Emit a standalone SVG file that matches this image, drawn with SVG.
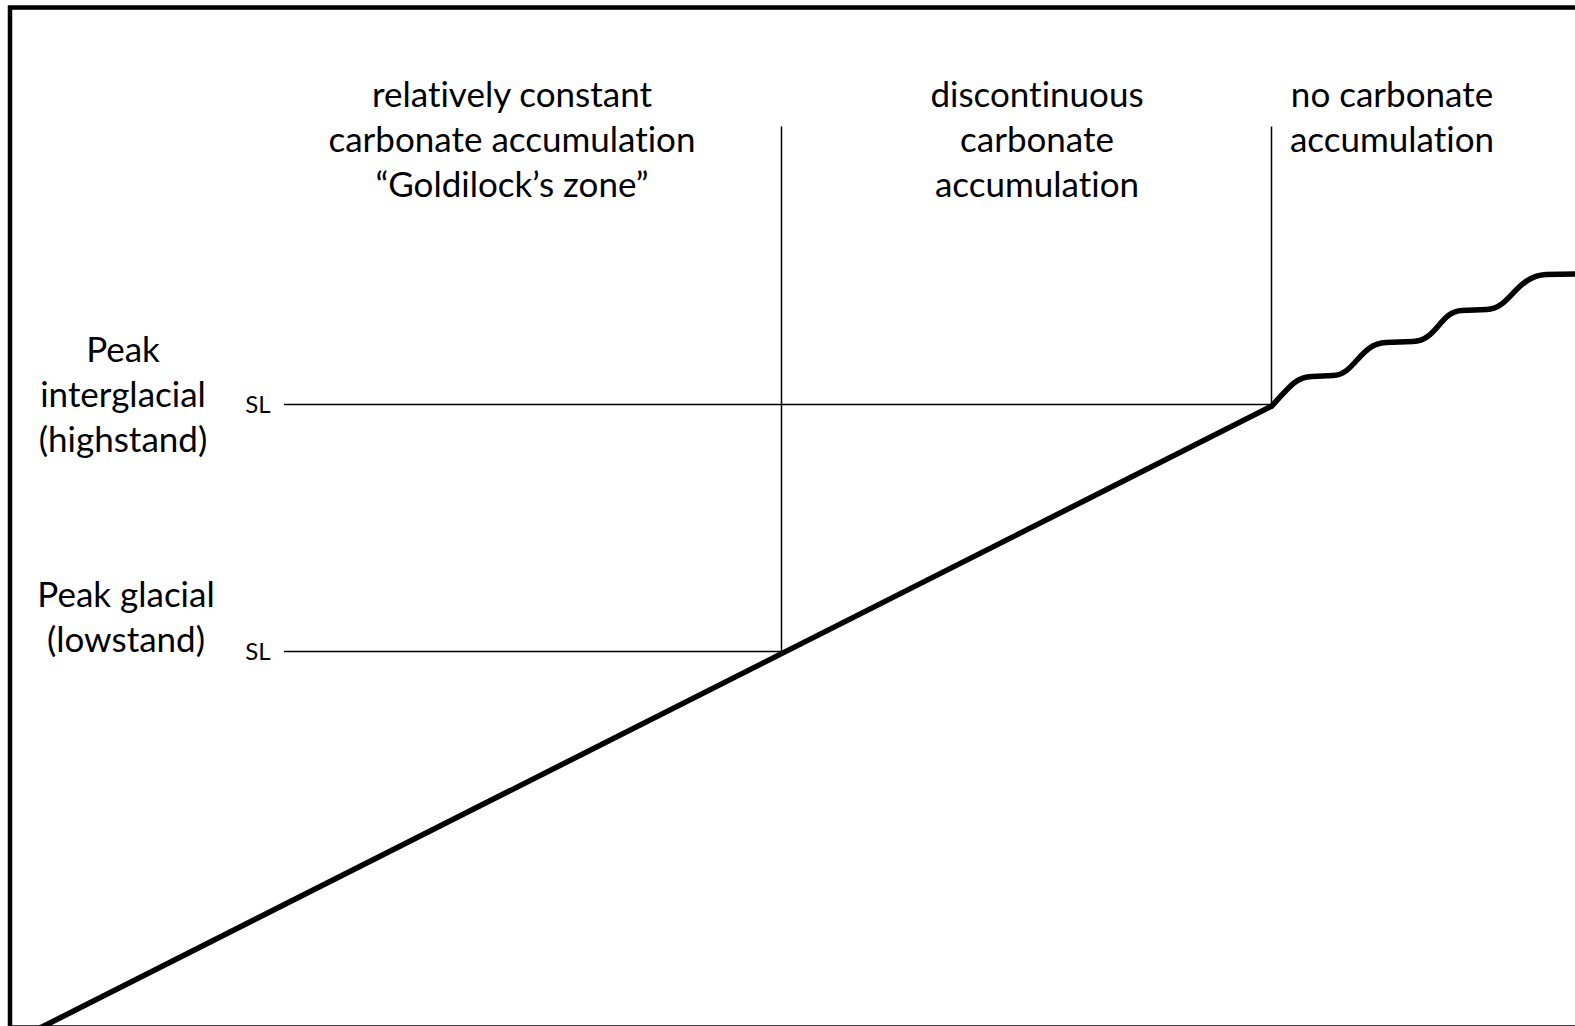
<svg xmlns="http://www.w3.org/2000/svg" width="1575" height="1026" viewBox="0 0 1575 1026">
<style>
.lbl{font-family:Lato,"Open Sans","Liberation Sans",sans-serif;font-size:35px;fill:#000;text-anchor:middle;font-variant-ligatures:none}
.sl{font-family:Lato,"Open Sans","Liberation Sans",sans-serif;font-size:24px;fill:#000;text-anchor:middle}
.thin{stroke:#000;stroke-width:1.5;fill:none}
.thick{stroke:#000;stroke-width:5.5;fill:none;stroke-linejoin:round}
</style>
<rect x="0" y="0" width="1575" height="1026" fill="#fff"/>
<g id="frame"><rect x="10" y="7.5" width="1580" height="1020" fill="none" stroke="#000" stroke-width="4.5"/></g>
<g id="connectors">
<line class="thin" x1="284" y1="404.5" x2="1272" y2="404.5"/>
<line class="thin" x1="284" y1="651.5" x2="782" y2="651.5"/>
<line class="thin" x1="781.5" y1="126.5" x2="781.5" y2="651.5"/>
<line class="thin" x1="1271.5" y1="126.5" x2="1271.5" y2="405"/>
<line class="thick" x1="36" y1="1030" x2="1272" y2="406"/>
<path class="thick" d="M1271,407 C1290,386 1296,377 1312,376.5 L1333,375.5 C1355,375 1360,343 1386,342.5 L1413,341.5 C1437,341 1440,311 1462,310.5 L1487,309.5 C1510,309 1516,276 1546,274.5 L1575,274"/>
</g>
<g id="zone1"><text class="lbl" x="512" y="107">relatively constant</text><text class="lbl" x="512" y="152">carbonate accumulation</text><text class="lbl" x="512" y="197">“Goldilock’s zone”</text></g>
<g id="zone2"><text class="lbl" x="1037" y="107">discontinuous</text><text class="lbl" x="1037" y="152">carbonate</text><text class="lbl" x="1037" y="197">accumulation</text></g>
<g id="zone3"><text class="lbl" x="1392" y="107">no carbonate</text><text class="lbl" x="1392" y="152">accumulation</text></g>
<g id="highstand"><text class="lbl" x="123" y="362">Peak</text><text class="lbl" x="123" y="407">interglacial</text><text class="lbl" x="123" y="452">(highstand)</text><text class="sl" x="258" y="413">SL</text></g>
<g id="lowstand"><text class="lbl" x="126" y="607">Peak glacial</text><text class="lbl" x="126" y="652">(lowstand)</text><text class="sl" x="258" y="660">SL</text></g>
</svg>
